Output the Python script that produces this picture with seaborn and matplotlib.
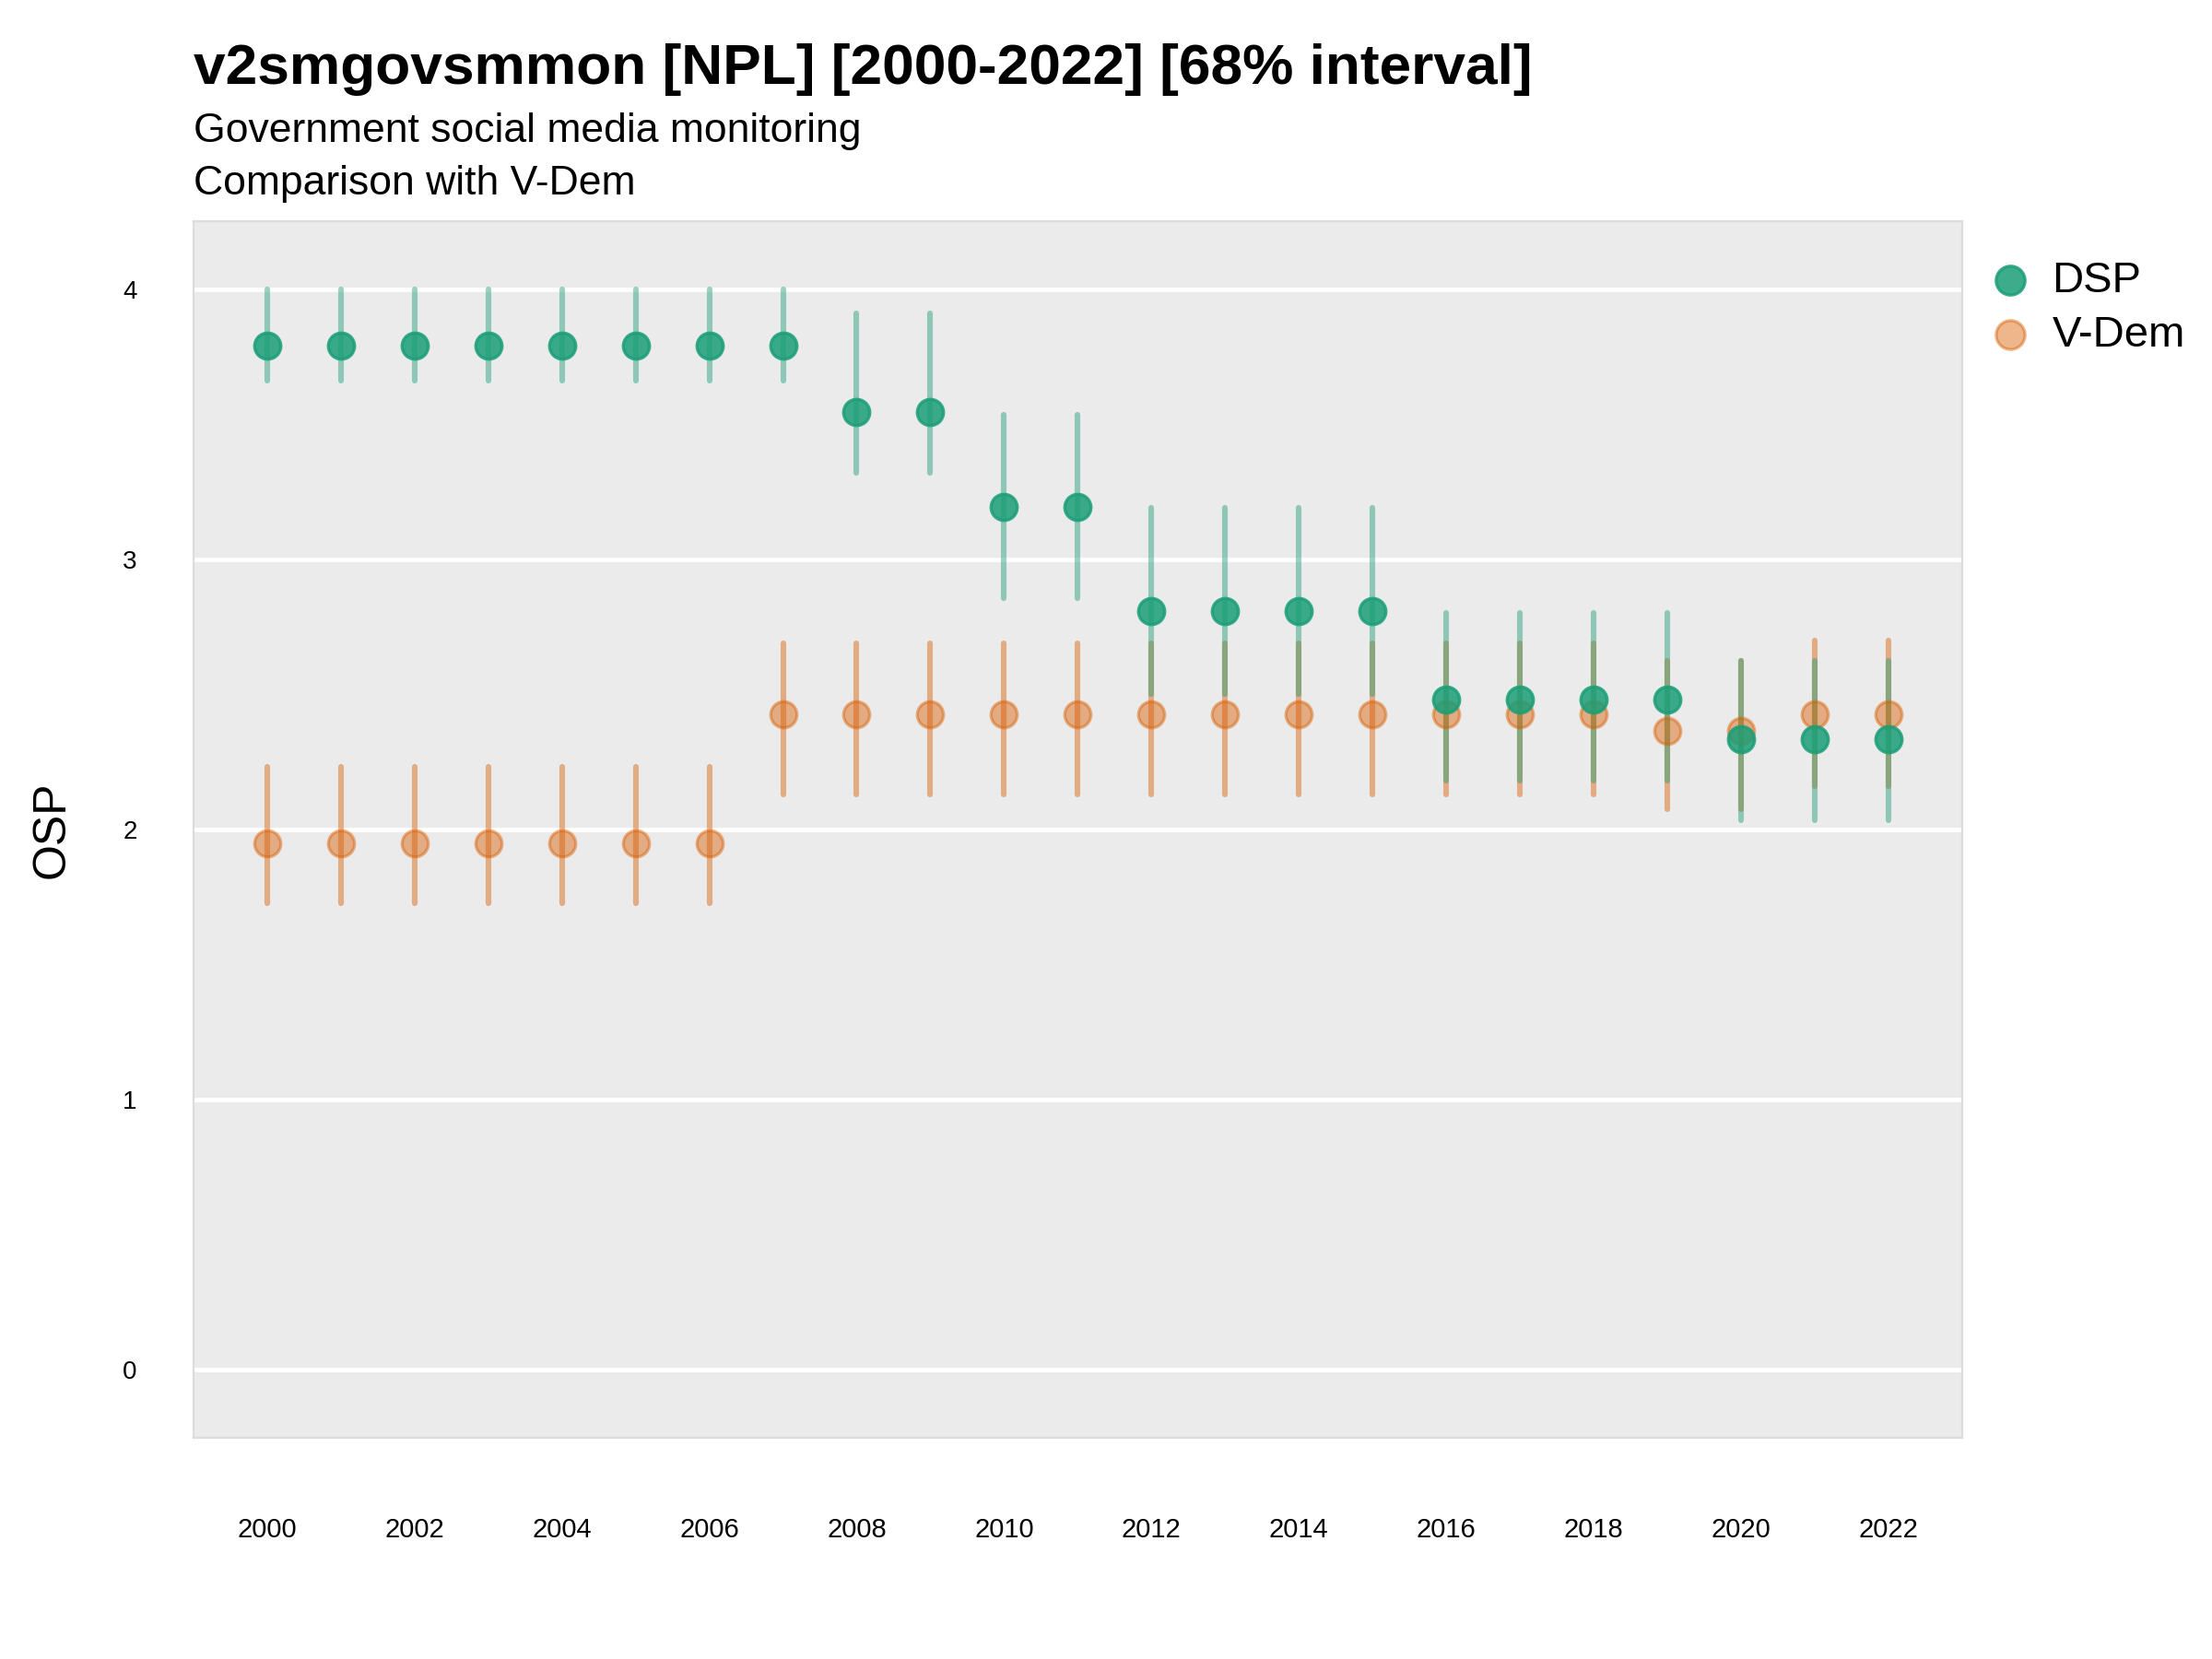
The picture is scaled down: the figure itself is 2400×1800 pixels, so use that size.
import numpy as np
import pandas as pd
import matplotlib
matplotlib.use("Agg")
import matplotlib.pyplot as plt
import seaborn as sns

years = list(range(2000, 2023))

dsp_mean = [3.79, 3.79, 3.79, 3.79, 3.79, 3.79, 3.79, 3.79, 3.545, 3.545, 3.195, 3.195,
            2.81, 2.81, 2.81, 2.81, 2.48, 2.48, 2.48, 2.48, 2.333, 2.333, 2.333]
dsp_low = [3.66, 3.66, 3.66, 3.66, 3.66, 3.66, 3.66, 3.66, 3.32, 3.32, 2.855, 2.855,
           2.50, 2.50, 2.50, 2.50, 2.18, 2.18, 2.18, 2.18, 2.034, 2.034, 2.034]
dsp_high = [4.0, 4.0, 4.0, 4.0, 4.0, 4.0, 4.0, 4.0, 3.909, 3.909, 3.535, 3.535,
            3.19, 3.19, 3.19, 3.19, 2.80, 2.80, 2.80, 2.80, 2.625, 2.625, 2.625]

vdem_mean = [1.948, 1.948, 1.948, 1.948, 1.948, 1.948, 1.948, 2.426, 2.426, 2.426, 2.426, 2.426,
             2.426, 2.426, 2.426, 2.426, 2.426, 2.426, 2.426, 2.366, 2.366, 2.426, 2.426]
vdem_low = [1.727, 1.727, 1.727, 1.727, 1.727, 1.727, 1.727, 2.131, 2.131, 2.131, 2.131, 2.131,
            2.131, 2.131, 2.131, 2.131, 2.131, 2.131, 2.131, 2.074, 2.074, 2.16, 2.16]
vdem_high = [2.232, 2.232, 2.232, 2.232, 2.232, 2.232, 2.232, 2.688, 2.688, 2.688, 2.688, 2.688,
             2.688, 2.688, 2.688, 2.688, 2.688, 2.688, 2.688, 2.625, 2.625, 2.699, 2.699]

df = pd.concat([
    pd.DataFrame({"year": years, "value": dsp_mean, "low": dsp_low, "high": dsp_high, "source": "DSP"}),
    pd.DataFrame({"year": years, "value": vdem_mean, "low": vdem_low, "high": vdem_high, "source": "V-Dem"}),
])

colors = {"DSP": "#1b9e77", "V-Dem": "#d95f02"}
point_alpha = {"DSP": 0.85, "V-Dem": 0.45}

sns.set_theme(style="white")
plt.rcParams["font.family"] = ["Liberation Sans", "DejaVu Sans"]
plt.rcParams["text.color"] = "black"
plt.rcParams["xtick.color"] = "black"
plt.rcParams["ytick.color"] = "black"
plt.rcParams["axes.labelcolor"] = "black"

fig = plt.figure(figsize=(12, 9), dpi=200)
ax = fig.add_axes([0.0874, 0.1335, 0.7997, 0.733])
ax.set_facecolor("#ebebeb")

# error bars first, then points
for src in ["V-Dem", "DSP"]:
    sub = df[df["source"] == src]
    ax.vlines(sub["year"], sub["low"], sub["high"], color=colors[src], alpha=0.45,
              linewidth=2.2, capstyle="round", zorder=2)

for src in ["V-Dem", "DSP"]:
    sub = df[df["source"] == src]
    sns.scatterplot(data=sub, x="year", y="value", color=colors[src], alpha=point_alpha[src],
                    s=105, edgecolor=colors[src], linewidth=1.2, label=src, ax=ax, zorder=3)

ax.set_xlim(1999, 2023)
ax.set_ylim(-0.25, 4.25)
ax.set_xticks(years[::2])
ax.set_yticks([0, 1, 2, 3, 4])
ax.grid(axis="y", color="white", linewidth=1.7)
ax.grid(axis="x", visible=False)
ax.set_axisbelow(True)
for sp in ax.spines.values():
    sp.set_color("#dcdcdc")
    sp.set_linewidth(0.8)
ax.tick_params(axis="y", length=0, pad=22, labelsize=10)
ax.tick_params(axis="x", length=0, pad=31, labelsize=10.5)
ax.set_xlabel("")
ax.set_ylabel("OSP", fontsize=18)
ax.yaxis.set_label_coords(-0.068, 0.5)

handles, labels = ax.get_legend_handles_labels()
order = [labels.index("DSP"), labels.index("V-Dem")]
ax.legend([handles[i] for i in order], [labels[i] for i in order], loc="upper left",
          bbox_to_anchor=(1.015, 0.968), frameon=False, fontsize=17, handletextpad=0.45,
          handlelength=1.0, borderpad=0, borderaxespad=0, labelspacing=0.32, markerscale=1.1)

fig.text(0.0874, 0.958, "v2smgovsmmon [NPL] [2000-2022] [68% interval]", fontsize=22.4,
         fontweight="bold", va="center", ha="left")
fig.text(0.0874, 0.921, "Government social media monitoring", fontsize=16, va="center", ha="left")
fig.text(0.0874, 0.889, "Comparison with V-Dem", fontsize=16, va="center", ha="left")

fig.savefig("out.png", dpi=200)
